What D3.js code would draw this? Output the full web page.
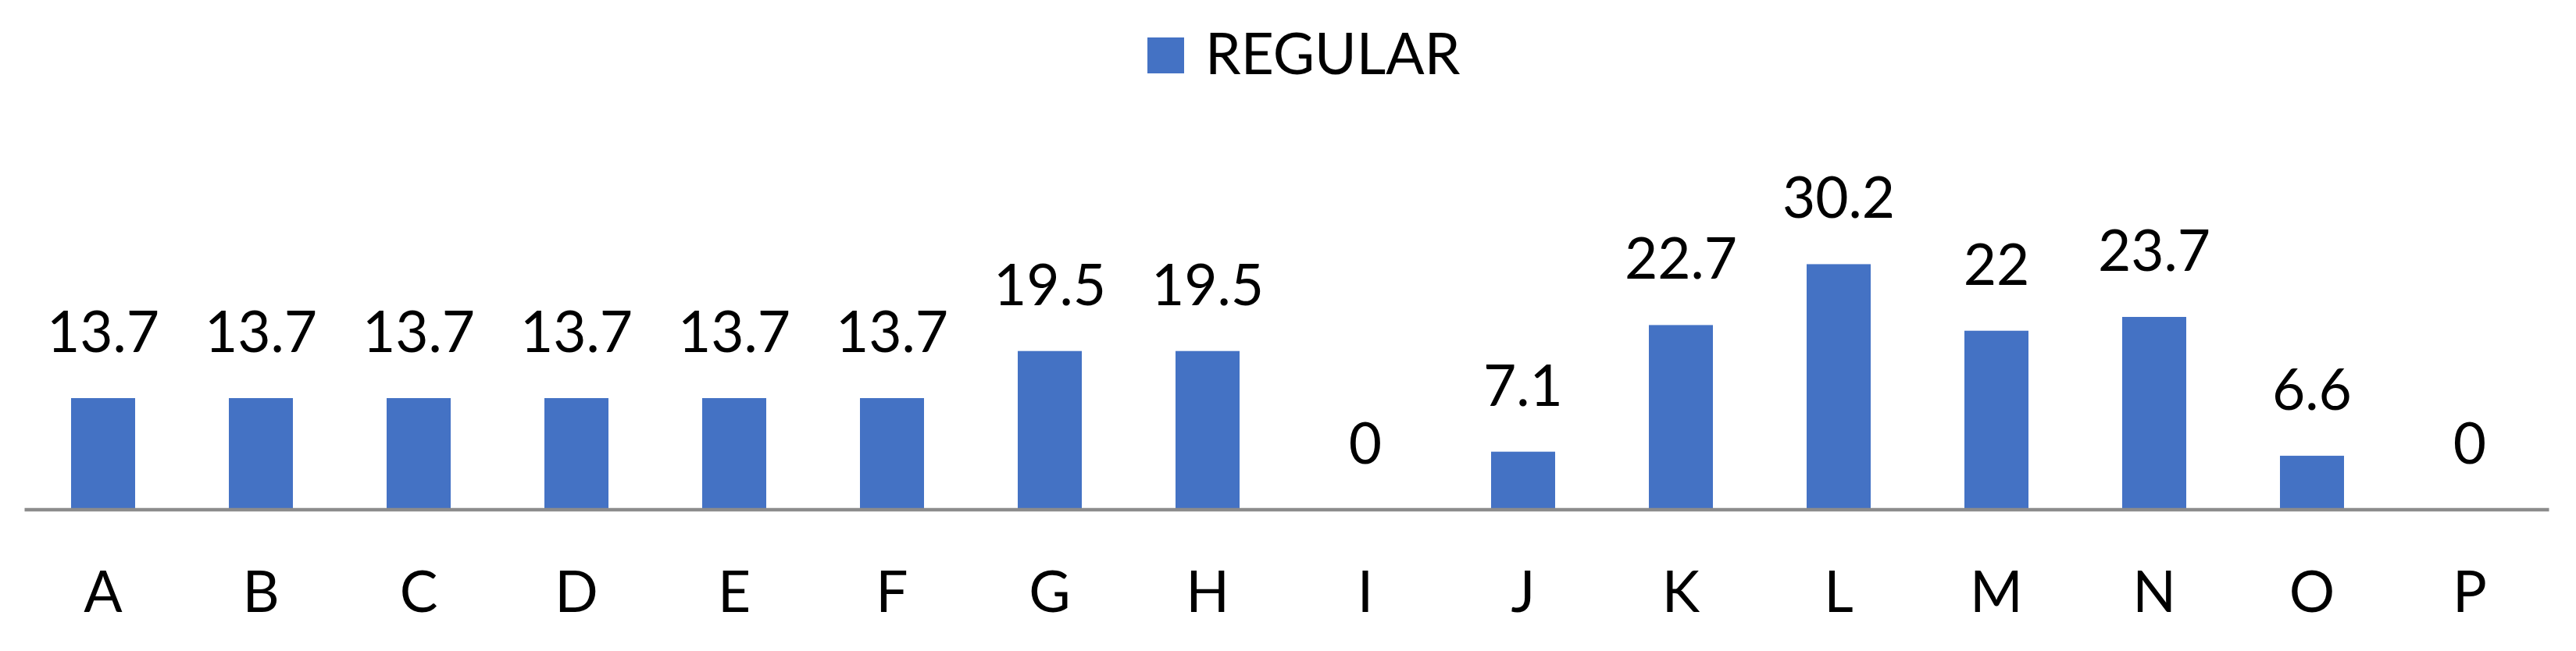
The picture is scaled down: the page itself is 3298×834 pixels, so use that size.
<!DOCTYPE html>
<html>
<head>
<meta charset="utf-8">
<script src="https://cdn.jsdelivr.net/npm/d3@7"></script>
<style>
    html, body { margin: 0; padding: 0; background: #fff; }
    svg { display: block; font-family: Lato, "Open Sans", sans-serif; }
</style>
</head>
<body>
<div id="chart"></div>
<script>
"use strict";

var categories = ["A", "B", "C", "D", "E", "F", "G", "H",
                  "I", "J", "K", "L", "M", "N", "O", "P"];
var regular = [13.7, 13.7, 13.7, 13.7, 13.7, 13.7, 19.5, 19.5,
               0, 7.1, 22.7, 30.2, 22, 23.7, 6.6, 0];
var seriesName = "REGULAR";
var yDomain = [0, 35];

var ch = {w: 3298, h: 834};
ch.base = 652.5;       //axis line position
ch.unit = 10.4;        //px per value unit
ch.fontSize = 73;
ch.barColor = "#4472C4";
ch.axisColor = "#8c8c8c";

var svg = d3.select("#chart").append("svg")
    .attr("width", ch.w)
    .attr("height", ch.h);

var x = d3.scaleBand()
    .domain(categories)
    .range([31, 3263])
    .paddingInner(0.594)
    .paddingOuter(0.297);

var y = d3.scaleLinear()
    .domain(yDomain)
    .range([ch.base, ch.base - ch.unit * yDomain[1]]);

var data = categories.map(function (c, i) { return {cat: c, val: regular[i]}; });

//bars
svg.append("g").selectAll("rect")
    .data(data)
    .enter().append("rect")
    .attr("x", function (d) { return x(d.cat); })
    .attr("width", x.bandwidth())
    .attr("y", function (d) { return y(d.val); })
    .attr("height", function (d) { return y(0) - y(d.val); })
    .attr("fill", ch.barColor);

//category axis, labels pushed well below the line
var xAxis = d3.axisBottom(x).tickSize(0).tickSizeOuter(0);
var gx = svg.append("g")
    .attr("transform", "translate(0," + ch.base + ")")
    .call(xAxis);
gx.select(".domain")
    .attr("stroke", ch.axisColor)
    .attr("stroke-width", 4.5);
gx.selectAll(".tick text")
    .attr("y", 131.5)
    .attr("dy", null)
    .attr("fill", "#000")
    .style("font-size", ch.fontSize + "px")
    .style("font-family", "Lato, 'Open Sans', sans-serif");

//data labels
svg.append("g").selectAll("text")
    .data(data)
    .enter().append("text")
    .attr("x", function (d) { return x(d.cat) + x.bandwidth() / 2; })
    .attr("y", function (d) { return y(d.val) - 59; })
    .attr("text-anchor", "middle")
    .attr("fill", "#000")
    .style("font-size", ch.fontSize + "px")
    .text(function (d) { return String(d.val); });

//legend
var lg = svg.append("g").attr("class", "legend");
lg.append("rect")
    .attr("x", 1469)
    .attr("y", 48)
    .attr("width", 47)
    .attr("height", 46)
    .attr("fill", ch.barColor);
lg.append("text")
    .attr("x", 1543)
    .attr("y", 95)
    .attr("fill", "#000")
    .style("font-size", ch.fontSize + "px")
    .text(seriesName);
</script>
</body>
</html>
